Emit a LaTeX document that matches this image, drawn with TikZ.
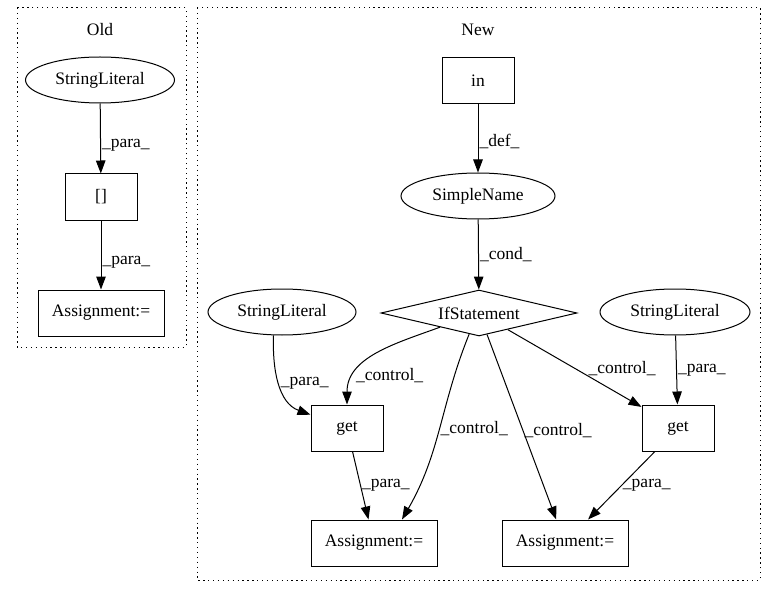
\documentclass[tikz,border=0pt]{standalone}
\usepackage{fontspec}
\setmainfont{Liberation Serif}
\usetikzlibrary{shapes.geometric,arrows.meta}

\begin{document}
\begin{tikzpicture}[x=1pt,y=1pt,font=\fontsize{17.5}{20}\selectfont,line width=1pt,
  box/.style={draw,rectangle,minimum width=72pt,minimum height=46pt,inner sep=0pt},
  asg/.style={box,minimum width=126pt},
  lit/.style={draw,ellipse,minimum width=148pt,minimum height=46pt,inner sep=0pt},
  cond/.style={draw,diamond,aspect=4,minimum width=196pt,minimum height=46pt,inner sep=0pt},
  cluster/.style={draw,dash pattern=on 1.3pt off 3.6pt},
  lbl/.style={right,inner sep=1pt},
  every edge/.style={draw,-{Triangle[length=13pt,width=9.5pt]}}]
%\draw[help lines] (0,0) grid (776,-596);
\useasboundingbox (0,0) rectangle (776,-596);
\draw[cluster] (17,-8) rectangle (186,-347);
\draw[cluster] (197,-8) rectangle (760,-580);
\node (old) at (100,-30) {Old};
\node (new) at (478,-30) {New};
% old
\node (oldlit) [lit,minimum width=149pt] at (100,-80) {StringLiteral};
\node (oldidx) [box] at (101,-197) {[]};
\node (oldasg) [asg] at (101,-313) {Assignment:=};
% new
\node (in) [box] at (478,-81) {in};
\node (name) [lit,minimum width=154pt] at (478,-196) {SimpleName};
\node (ifst) [cond] at (479,-313) {IfStatement};
\node (lit1) [lit] at (282,-312) {StringLiteral};
\node (lit2) [lit,minimum width=150pt] at (675,-312) {StringLiteral};
\node (get1) [box] at (347,-428) {get};
\node (get2) [box] at (678,-428) {get};
\node (asg1) [asg] at (374,-543) {Assignment:=};
\node (asg2) [asg] at (565,-543) {Assignment:=};
\path
(oldlit) edge node [lbl,pos=0.6]{\_para\_} (oldidx)
(oldidx) edge node [lbl,pos=0.6]{\_para\_} (oldasg)
(in) edge node [lbl,pos=0.55]{\_def\_} (name)
(name) edge node [lbl,pos=0.5]{\_cond\_} (ifst)
(lit1.250) edge [out=-92,in=160] node [lbl,pos=0.5]{\_para\_} (get1)
(ifst) edge [out=200,in=90] node [lbl,pos=0.76]{\_control\_} (get1)
(ifst.245) edge [out=-112,in=60] node [lbl,pos=0.5]{\_control\_} ([xshift=28pt]asg1.north)
(ifst) edge node [lbl,pos=0.52]{\_control\_} (asg2)
(ifst) edge node [pos=0.6,above right,inner sep=0pt]{\_control\_} (get2)
(lit2) edge node [lbl,pos=0.5]{\_para\_} (get2)
(get1) edge node [lbl,pos=0.5]{\_para\_} (asg1)
(get2) edge node [lbl,pos=0.5]{\_para\_} (asg2);
\end{tikzpicture}
\end{document}
